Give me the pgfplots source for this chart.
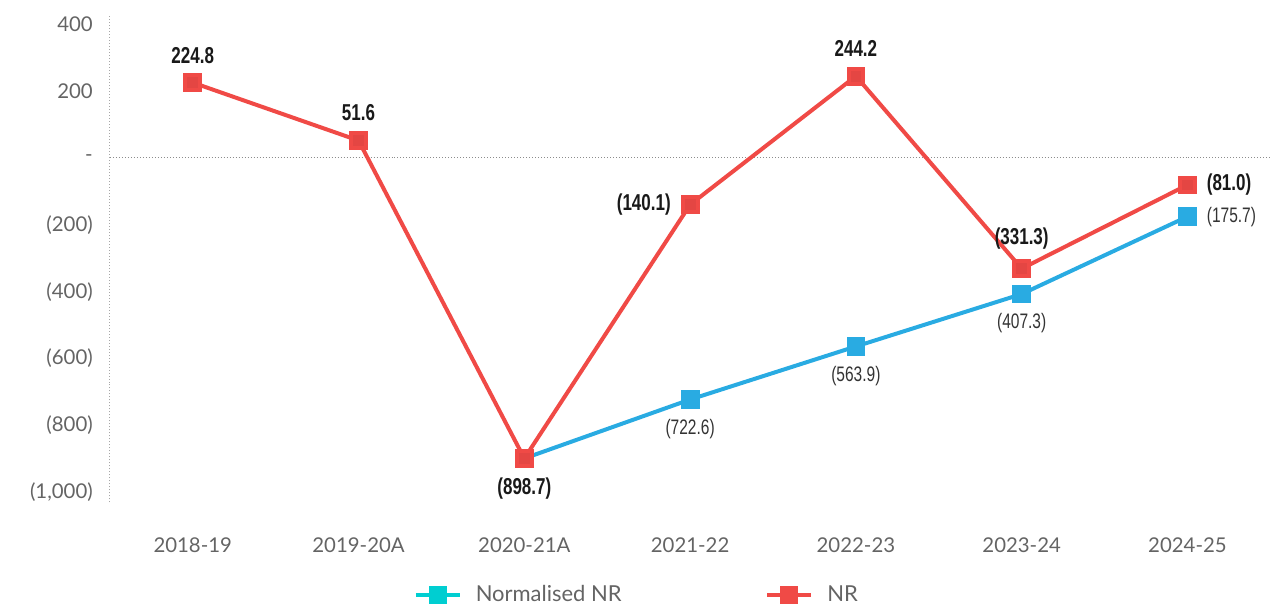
\documentclass[border=0pt]{standalone}
\usepackage{fontspec}
\setmainfont{Lato}
\newfontfamily\condfont[FakeStretch=0.74]{Liberation Sans}
\usepackage{pgfplots}
\pgfplotsset{compat=1.18}
\definecolor{nrred}{RGB}{240,74,70}
\definecolor{nrblue}{RGB}{41,171,226}
\definecolor{legcyan}{RGB}{0,206,209}
\definecolor{tickgray}{RGB}{100,100,100}

\pgfplotsset{
  nrlab/.style={forget plot, draw=none, mark=none, nodes near coords, point meta=explicit symbolic,
    every node near coord/.append style={anchor=#1, font=\condfont\bfseries\fontsize{11.5}{13}\selectfont, text=black!90, inner sep=9.5pt}},
  normlab/.style={forget plot, draw=none, mark=none, nodes near coords, point meta=explicit symbolic,
    every node near coord/.append style={anchor=#1, font=\condfont\fontsize{10.5}{12}\selectfont, text=black!80, inner sep=9.5pt}},
}

\begin{document}
\begin{tikzpicture}
\begin{axis}[
  scale only axis,
  width=581pt, height=244pt,
  xmin=-0.5, xmax=6.5,
  ymin=-1030, ymax=427,
  axis line style={draw=none},
  major tick length=0pt,
  xtick={0,...,6},
  xticklabels={2018-19,2019-20A,2020-21A,2021-22,2022-23,2023-24,2024-25},
  ytick={-1000,-800,-600,-400,-200,0,200,400},
  yticklabels={(1,000),(800),(600),(400),(200),-,200,400},
  tick label style={font=\fontsize{10.2}{12}\selectfont, text=tickgray},
  xticklabel style={yshift=-14pt},
  yticklabel style={xshift=-5pt},
  legend columns=2,
  legend style={draw=none, at={(0.455,-0.19)}, anchor=center,
    font=\fontsize{11}{13}\selectfont, text=tickgray,
    /tikz/every odd column/.append style={column sep=5pt},
    /tikz/every even column/.append style={column sep=70pt}},
  legend cell align=left,
  legend image code/.code={\draw[mark repeat=2,mark phase=2,#1] plot coordinates {(0pt,0pt) (11pt,0pt) (22pt,0pt)};},
  clip=false,
]
\draw[densely dotted, gray!70, line width=0.5pt] (rel axis cs:0,0) -- (rel axis cs:0,1);
\draw[densely dotted, gray!90, line width=0.5pt] (axis cs:-0.5,0) -- (axis cs:6.5,0);

% Normalised NR
\addplot[forget plot, nrblue, line width=2pt, mark=square*, mark size=3.7pt,
  mark options={fill=nrblue, draw=none}]
  coordinates {(2,-898.7) (3,-722.6) (4,-563.9) (5,-407.3) (6,-175.7)};
% NR
\addplot[forget plot, nrred, line width=2pt, mark=square*, mark size=3.7pt,
  mark options={fill=nrred!95!black, draw=none}]
  coordinates {(0,224.8) (1,51.6) (2,-898.7) (3,-140.1) (4,244.2) (5,-331.3) (6,-81.0)};

% labels
\addplot[normlab=north] coordinates {(3,-722.6) [(722.6)] (4,-563.9) [(563.9)] (5,-407.3) [(407.3)]};
\addplot[normlab=west] coordinates {(6,-175.7) [(175.7)]};
\addplot[nrlab=south] coordinates {(0,224.8) [224.8] (1,51.6) [51.6] (4,244.2) [244.2] (5,-331.3) [(331.3)]};
\addplot[nrlab=north] coordinates {(2,-898.7) [(898.7)]};
\addplot[nrlab=east] coordinates {(3,-140.1) [(140.1)]};
\addplot[nrlab=west] coordinates {(6,-81.0) [(81.0)]};

\addlegendimage{legcyan, line width=2pt, mark=square*, mark size=3.5pt, mark options={fill=legcyan, draw=none}}
\addlegendentry{Normalised NR}
\addlegendimage{nrred, line width=2pt, mark=square*, mark size=3.5pt, mark options={fill=nrred, draw=none}}
\addlegendentry{NR}
\end{axis}
\path (current axis.south west) ++(-55pt,-48pt) rectangle ([xshift=1.5pt,yshift=7.5pt]current axis.north east);
\end{tikzpicture}
\end{document}
